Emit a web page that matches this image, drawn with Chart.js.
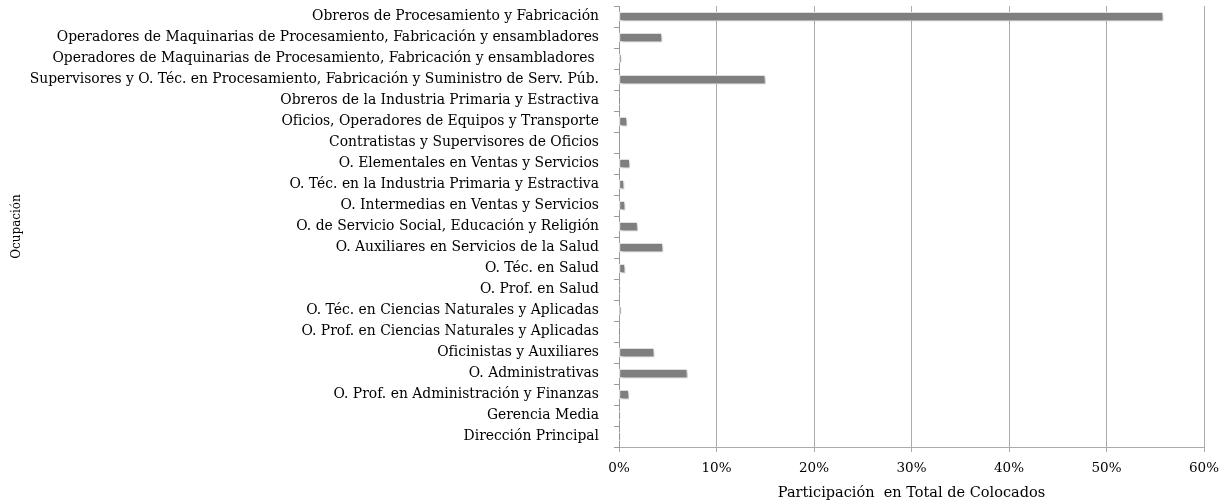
<!DOCTYPE html>
<html lang="es">
<head>
  <meta charset="UTF-8">
  <title>Participación en Total de Colocados</title>
  <script src="https://cdn.jsdelivr.net/npm/chart.js"></script>
  <style>
    html, body { margin: 0; padding: 0; background: #fff; }
    #wrap { width: 1230px; height: 502px; }
  </style>
</head>
<body>
  <div id="wrap"><canvas id="myChart"></canvas></div>

  <script>
    // occupations, top to bottom
    const ocupaciones = [
      'Obreros de Procesamiento y Fabricación',
      'Operadores de Maquinarias de Procesamiento, Fabricación y ensambladores',
      'Operadores de Maquinarias de Procesamiento, Fabricación y ensambladores ',
      'Supervisores y O. Téc. en Procesamiento, Fabricación y Suministro de Serv. Púb.',
      'Obreros de la Industria Primaria y Estractiva',
      'Oficios, Operadores de Equipos y Transporte',
      'Contratistas y Supervisores de Oficios',
      'O. Elementales en Ventas y Servicios',
      'O. Téc. en la Industria Primaria y Estractiva',
      'O. Intermedias en Ventas y Servicios',
      'O. de Servicio Social, Educación y Religión',
      'O. Auxiliares en Servicios de la Salud',
      'O. Téc. en Salud',
      'O. Prof. en Salud',
      'O. Téc. en Ciencias Naturales y Aplicadas',
      'O. Prof. en Ciencias Naturales y Aplicadas',
      'Oficinistas y Auxiliares',
      'O. Administrativas',
      'O. Prof. en Administración y Finanzas',
      'Gerencia Media',
      'Dirección Principal'
    ];

    // share of total placements, in %
    const participacion = [
      55.8, 4.4, 0.25, 15.0, 0.05, 0.8, 0, 1.1, 0.5, 0.6, 1.9,
      4.5, 0.6, 0.1, 0.2, 0.05, 3.6, 7.0, 1.0, 0.1, 0.1
    ];

    const xTicks = [0, 10, 20, 30, 40, 50, 60];

    const serif = 'DejaVu Serif';

    // soft drop shadow under the bars
    const barShadow = {
      id: 'barShadow',
      beforeDatasetsDraw(chart) {
        const c = chart.ctx;
        c.save();
        c.shadowColor = 'rgba(0,0,0,0.3)';
        c.shadowBlur = 3;
        c.shadowOffsetX = 2;
        c.shadowOffsetY = 2;
      },
      afterDatasetsDraw(chart) {
        chart.ctx.restore();
      }
    };

    const ctx = document.getElementById('myChart').getContext('2d');
    const chart = new Chart(ctx, {
      type: 'bar',
      data: {
        labels: ocupaciones,
        datasets: [{
          label: 'Participación',
          data: participacion,
          backgroundColor: '#7f7f7f',
          borderColor: '#ffffff',
          borderWidth: 1,
          barThickness: 9,
          borderSkipped: false
        }]
      },
      options: {
        indexAxis: 'y',
        responsive: true,
        maintainAspectRatio: false,
        animation: false,
        layout: { padding: { top: 6, right: 26, bottom: 0, left: 0 } },
        plugins: {
          legend: { display: false },
          tooltip: { enabled: false }
        },
        scales: {
          x: {
            min: 0,
            max: 60,
            afterBuildTicks(scale) {
              scale.ticks = xTicks.map(v => ({ value: v }));
            },
            afterFit(scale) {
              scale.height = 55;
              scale.paddingLeft = 0;
              scale.paddingRight = 0;
            },
            grid: {
              color: '#ababab',
              lineWidth: 1,
              tickLength: 5
            },
            border: { color: '#ababab' },
            ticks: {
              color: '#000',
              padding: 8,
              font: { family: serif, size: 13.5 },
              callback: v => v + '%'
            },
            title: {
              display: true,
              text: 'Participación  en Total de Colocados',
              color: '#000',
              font: { family: serif, size: 14.5 },
              padding: { top: 0, bottom: 0 }
            }
          },
          y: {
            afterFit(scale) {
              scale.width = 619;
              scale.paddingTop = 0;
              scale.paddingBottom = 0;
            },
            grid: {
              drawOnChartArea: false,
              color: '#9a9a9a',
              tickLength: 5,
              offset: true
            },
            border: { color: '#9a9a9a' },
            ticks: {
              color: '#000',
              padding: 15,
              autoSkip: false,
              font: { family: serif, size: 13.9 }
            },
            title: {
              display: true,
              text: 'Ocupación',
              color: '#000',
              font: { family: serif, size: 12 },
              padding: { top: 10, bottom: 0 }
            }
          }
        }
      },
      plugins: [barShadow]
    });
  </script>
</body>
</html>
